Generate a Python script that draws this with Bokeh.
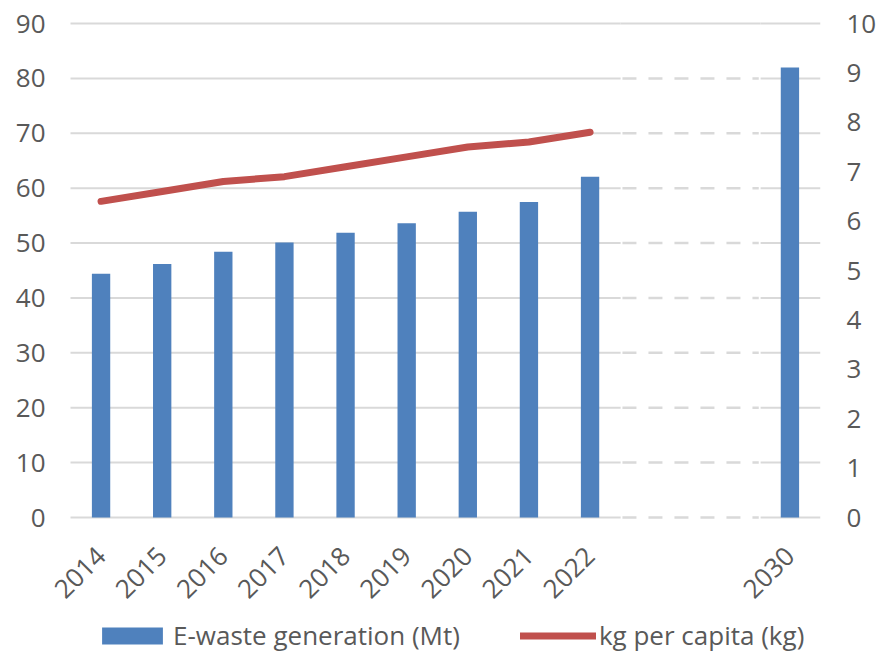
import math
from bokeh.plotting import figure
from bokeh.models import Range1d, LinearAxis, FixedTicker, Legend, LegendItem, ColumnDataSource
from bokeh.embed import file_html
from bokeh.resources import INLINE

# ---- data ----
years = ["2014", "2015", "2016", "2017", "2018", "2019", "2020", "2021", "2022", "2030"]
ewaste_mt = [44.4, 46.2, 48.4, 50.1, 51.9, 53.6, 55.7, 57.5, 62.1, 82.0]
line_years = ["2014", "2015", "2016", "2017", "2018", "2019", "2020", "2021", "2022"]
kg_per_capita = [6.4, 6.6, 6.8, 6.9, 7.1, 7.3, 7.5, 7.6, 7.8]
left_ticks = [0, 10, 20, 30, 40, 50, 60, 70, 80, 90]
right_ticks = [0, 1, 2, 3, 4, 5, 6, 7, 8, 9, 10]
bar_label = "E-waste generation (Mt)"
line_label = "kg per capita (kg)"

# ---- layout helpers (category slots with an axis break before 2030) ----
BREAK_GAP = 2.27
LAST_ACTUAL = 2022
xpos = [i + (BREAK_GAP if int(y) > LAST_ACTUAL else 0) for i, y in enumerate(years)]
pos_of = dict(zip(years, xpos))
line_x = [pos_of[y] for y in line_years]

BLUE = "#4f81bd"
RED = "#c0504d"
GRID = "#d9d9d9"
TXT = "#595959"
FONT = "Open Sans"
FS = "26px"

W, H = 882, 664
PLOT_TOP, ZERO_Y, FRAME_BOTTOM, FRAME_TOP = 23, 517, 660, 4   # pixel layout of the frame
PLOT_LEFT, PLOT_RIGHT, FRAME_LEFT = 70, 820, 4
below_frac = (FRAME_BOTTOM - ZERO_Y) / (ZERO_Y - PLOT_TOP)
above_frac = (PLOT_TOP - FRAME_TOP) / (ZERO_Y - PLOT_TOP)
y_min_left = -left_ticks[-1] * below_frac
y_max_left = left_ticks[-1] * (1 + above_frac)
y_min_right = -right_ticks[-1] * below_frac
y_max_right = right_ticks[-1] * (1 + above_frac)

x_lo, x_hi = -0.5, xpos[-1] + 0.5
slot_px = (PLOT_RIGHT - PLOT_LEFT) / (x_hi - x_lo)
x_frame_lo = x_lo - (PLOT_LEFT - FRAME_LEFT) / slot_px

p = figure(width=W, height=H, output_backend="svg", toolbar_location=None,
           x_range=Range1d(x_frame_lo, x_hi), y_range=Range1d(y_min_left, y_max_left),
           min_border_left=FRAME_LEFT, min_border_right=W - PLOT_RIGHT, min_border_top=FRAME_TOP,
           min_border_bottom=H - FRAME_BOTTOM)
p.extra_y_ranges = {"right": Range1d(y_min_right, y_max_right)}
p.outline_line_color = None
p.xgrid.visible = False
p.ygrid.visible = False

# gridlines: solid, with dashed section across the break (top line stays solid)
brk_start = pos_of[line_years[-1]] + 0.5
brk_end = xpos[-1] - 0.48
n = len(left_ticks)
gsrc_solid = ColumnDataSource(dict(
    x0=[x_lo] * n + [brk_end] * n + [brk_start],
    x1=[brk_start] * n + [x_hi] * n + [brk_end],
    y=left_ticks + left_ticks + [left_ticks[-1]]))
p.segment(x0="x0", y0="y", x1="x1", y1="y", source=gsrc_solid, line_color=GRID, line_width=2, level="underlay")
p.segment(x0=[brk_start + 0.03] * (n - 1), y0=left_ticks[:-1],
          x1=[brk_end - 0.03] * (n - 1), y1=left_ticks[:-1],
          line_color=GRID, line_width=2.5, line_dash="14 12", level="underlay")

bars = p.vbar(x=xpos, top=ewaste_mt, width=0.3, fill_color=BLUE, line_color=None)
ln = p.line(x=line_x, y=kg_per_capita, y_range_name="right", line_color=RED,
            line_width=7, line_cap="round", line_join="round")

# axes
p.yaxis.ticker = FixedTicker(ticks=left_ticks)
p.yaxis.fixed_location = x_lo
ax_r = LinearAxis(y_range_name="right", ticker=FixedTicker(ticks=right_ticks))
p.add_layout(ax_r, "right")
p.xaxis.ticker = FixedTicker(ticks=xpos)
p.xaxis.major_label_overrides = {x: y for x, y in zip(xpos, years)}
p.xaxis.major_label_orientation = math.pi / 4
p.xaxis.fixed_location = 0

for ax in [p.xaxis[0], p.yaxis[0], ax_r]:
    ax.axis_line_color = None
    ax.major_tick_line_color = None
    ax.minor_tick_line_color = None
    ax.major_tick_out = 0
    ax.major_tick_in = 0
    ax.major_label_text_font = FONT
    ax.major_label_text_font_size = FS
    ax.major_label_text_color = TXT
p.yaxis[0].major_label_standoff = 25
ax_r.major_label_standoff = 26
p.xaxis[0].major_label_standoff = 34

legend = Legend(items=[LegendItem(label=bar_label, renderers=[bars]),
                       LegendItem(label=line_label, renderers=[ln])],
                orientation="horizontal", location=(24 + PLOT_LEFT - FRAME_LEFT, 7),
                glyph_width=76, glyph_height=21, label_height=26,
                label_text_font=FONT, label_text_font_size=FS, label_text_color=TXT,
                spacing=60, label_standoff=3, padding=0, margin=0,
                border_line_color=None, background_fill_alpha=0)
p.add_layout(legend, "center")

open("out.html", "w").write(file_html(p, INLINE))
